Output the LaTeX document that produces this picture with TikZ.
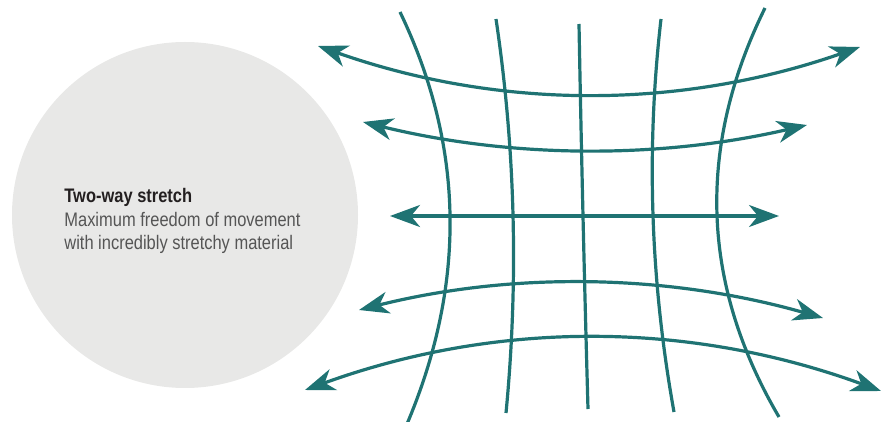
\documentclass[tikz,border=0pt]{standalone}
\usepackage{fontspec}
\setmainfont{Liberation Sans}[FakeStretch=0.84]
\usepackage{tikz}
\usetikzlibrary{arrows.meta,positioning}

\definecolor{stretchteal}{RGB}{31,115,115}
\definecolor{discgrey}{RGB}{232,232,231}
\definecolor{titlegrey}{RGB}{35,31,32}
\definecolor{bodygrey}{RGB}{85,85,85}

\tikzset{
  weave/.style={line width=1.6pt, stretchteal},
  pull/.style={weave, >={Stealth[length=15pt, width=11pt, inset=4.5pt]}, <->}
}

\begin{document}
\begin{tikzpicture}[x=0.5pt,y=-0.5pt]
        \useasboundingbox (0,0) rectangle (884,422);
        \fill[discgrey] (185,215) circle (173);
        \node[align=left, inner sep=0pt, anchor=north west, font=\fontsize{9.8pt}{11.75pt}\selectfont] (caption) at (64,188)
          {\textbf{\color{titlegrey}Two-way stretch}\\\color{bodygrey}Maximum freedom of movement\\\color{bodygrey}with incredibly stretchy material};
        % warp threads
        \foreach \ax/\ay/\bx/\by/\cx/\cy/\dx/\dy in {400/12/464.3/146/466.7/282.7/407/424,
            496/19/515.3/149/518.7/280.3/506/413,
            579/24/581.3/150.3/584.3/278.7/588/409,
            661/19/646/149.3/650.3/280.3/674/412,
            765/8/696.3/147.7/701/284/779/417} {
          \draw[weave] (\ax,\ay) .. controls (\bx,\by) and (\cx,\cy) .. (\dx,\dy);
        }
        % stretch arrows
        \foreach \ax/\ay/\bx/\by/\cx/\cy/\dx/\dy in {318/46/498.7/109.7/679.3/110/860/47,
            363/122/511/158.3/659/159.3/807/125,
            390/216/520/216/650/216/779/216,
            359/310/513.7/271.3/668.3/274/823/318,
            305/390/497/320.3/689/320.7/881/391} {
          \draw[pull] (\ax,\ay) .. controls (\bx,\by) and (\cx,\cy) .. (\dx,\dy);
        }
\end{tikzpicture}
\end{document}
